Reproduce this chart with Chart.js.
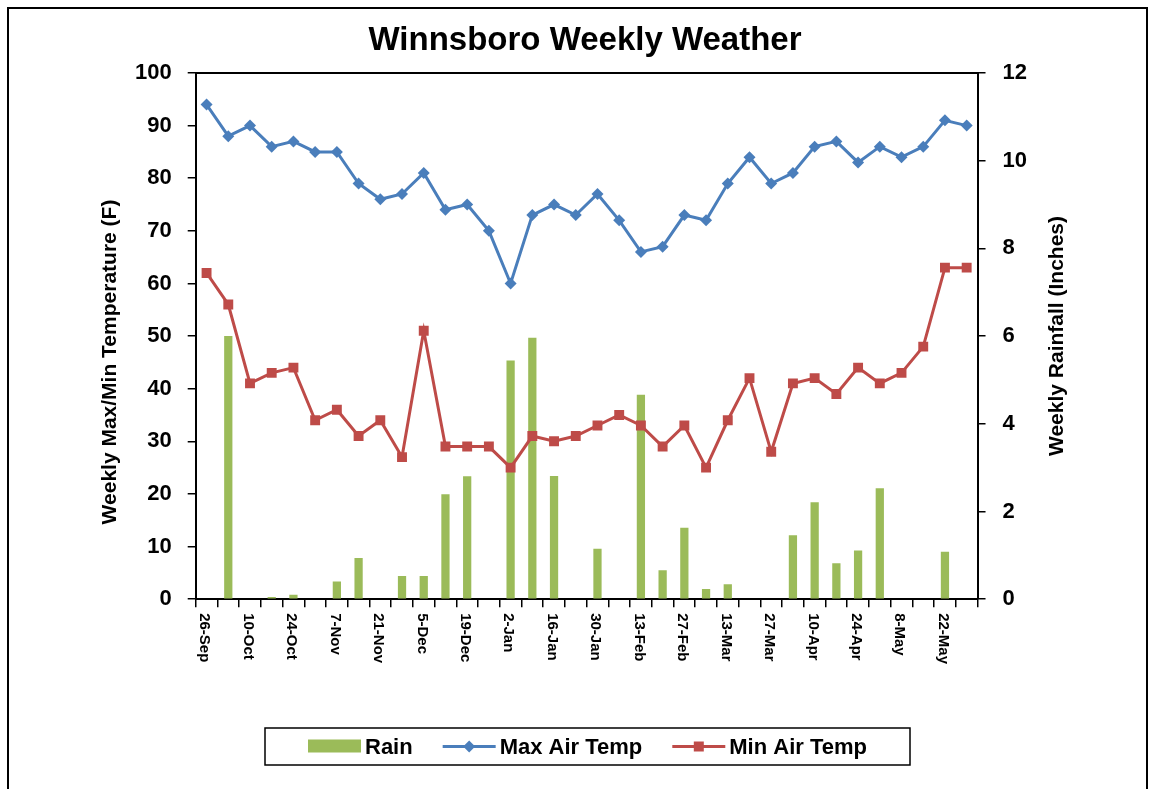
<!DOCTYPE html>
<html lang="en">
<head>
    <meta charset="UTF-8">
    <title>Winnsboro Weekly Weather</title>
    <script src="https://cdn.jsdelivr.net/npm/chart.js"></script>
    <style>
        html, body { margin: 0; padding: 0; background: #FFFFFF; }
        #wrap { position: relative; width: 1153px; height: 789px; }
    </style>
</head>
<body>
<div id="wrap">
    <canvas id="weatherChart" width="1153" height="789"></canvas>
</div>
<script>
    // weekly data, 26-Sep through 29-May
    const weeks = ['26-Sep', '3-Oct', '10-Oct', '17-Oct', '24-Oct', '31-Oct', '7-Nov', '14-Nov', '21-Nov',
        '28-Nov', '5-Dec', '12-Dec', '19-Dec', '26-Dec', '2-Jan', '9-Jan', '16-Jan', '23-Jan', '30-Jan',
        '6-Feb', '13-Feb', '20-Feb', '27-Feb', '6-Mar', '13-Mar', '20-Mar', '27-Mar', '3-Apr', '10-Apr',
        '17-Apr', '24-Apr', '1-May', '8-May', '15-May', '22-May', '29-May'];
    const maxTemp = [94, 88, 90, 86, 87, 85, 85, 79, 76, 77, 81, 74, 75, 70, 60, 73, 75, 73, 77, 72,
        66, 67, 73, 72, 79, 84, 79, 81, 86, 87, 83, 86, 84, 86, 91, 90];
    const minTemp = [62, 56, 41, 43, 44, 34, 36, 31, 34, 27, 51, 29, 29, 29, 25, 31, 30, 31, 33, 35,
        33, 29, 33, 25, 34, 42, 28, 41, 42, 39, 44, 41, 43, 48, 63, 63];
    const rain = [0, 6.0, 0, 0.05, 0.1, 0, 0.4, 0.94, 0, 0.53, 0.53, 2.39, 2.8, 0, 5.44, 5.96, 2.81, 0,
        1.15, 0, 4.66, 0.66, 1.63, 0.23, 0.34, 0, 0, 1.46, 2.21, 0.82, 1.11, 2.53, 0, 0, 1.08, 0];

    const GREEN = '#9BBB59';
    const BLUE = '#4A7EBB';
    const RED = '#BE4B48';
    const FONT = "'Liberation Sans', Arial, sans-serif";

    Chart.defaults.font.family = FONT;
    Chart.defaults.color = '#000000';

    // title, axis titles, x labels (clockwise), plot frame, legend, outer border
    const decorations = {
        id: 'decorations',
        afterDraw(chart) {
            const ctx = chart.ctx;
            const area = chart.chartArea;
            const xs = chart.scales.x;
            ctx.save();

            // plot frame top line
            ctx.strokeStyle = '#000';
            ctx.lineWidth = 2;
            ctx.beginPath();
            ctx.moveTo(area.left, area.top);
            ctx.lineTo(area.right, area.top);
            ctx.stroke();

            // title
            ctx.fillStyle = '#000';
            ctx.font = 'bold 33px ' + FONT;
            ctx.textAlign = 'center';
            ctx.textBaseline = 'middle';
            ctx.fillText('Winnsboro Weekly Weather', 585, 41);

            // axis titles
            ctx.font = 'bold 21px ' + FONT;
            ctx.save();
            ctx.translate(110, 362);
            ctx.rotate(-Math.PI / 2);
            ctx.fillText('Weekly Max/Min Temperature (F)', 0, 0);
            ctx.restore();
            ctx.save();
            ctx.translate(1057, 336);
            ctx.rotate(-Math.PI / 2);
            ctx.fillText('Weekly Rainfall (Inches)', 0, 0);
            ctx.restore();

            // x labels, every second week, reading top to bottom
            ctx.font = 'bold 15px ' + FONT;
            ctx.textAlign = 'left';
            const y0 = area.bottom + 8 + 6;
            weeks.forEach((w, i) => {
                if (i % 2) return;
                ctx.save();
                ctx.translate(xs.getPixelForValue(i) - 2, y0);
                ctx.rotate(Math.PI / 2);
                ctx.fillText(w, 0, 0);
                ctx.restore();
            });

            // legend
            const box = { x: 265, y: 728, w: 645, h: 37 };
            ctx.lineWidth = 1.5;
            ctx.strokeRect(box.x, box.y, box.w, box.h);
            ctx.font = 'bold 22px ' + FONT;
            ctx.textBaseline = 'middle';
            const cy = box.y + box.h / 2;
            const items = [
                { text: 'Rain', kind: 'bar', color: GREEN },
                { text: 'Max Air Temp', kind: 'diamond', color: BLUE },
                { text: 'Min Air Temp', kind: 'square', color: RED }
            ];
            const sym = 53, gap = 4, spacing = 30;
            let total = 0;
            items.forEach((it, k) => {
                it.tw = ctx.measureText(it.text).width;
                total += sym + gap + it.tw + (k ? spacing : 0);
            });
            let x = box.x + (box.w - total) / 2;
            items.forEach((it, k) => {
                if (k) x += spacing;
                ctx.fillStyle = it.color;
                ctx.strokeStyle = it.color;
                if (it.kind === 'bar') {
                    ctx.fillRect(x, cy - 7, sym, 13);
                } else {
                    ctx.lineWidth = 3;
                    ctx.beginPath();
                    ctx.moveTo(x, cy);
                    ctx.lineTo(x + sym, cy);
                    ctx.stroke();
                    const mx = x + sym / 2;
                    ctx.beginPath();
                    if (it.kind === 'diamond') {
                        ctx.moveTo(mx - 6, cy);
                        ctx.lineTo(mx, cy - 6);
                        ctx.lineTo(mx + 6, cy);
                        ctx.lineTo(mx, cy + 6);
                        ctx.closePath();
                    } else {
                        ctx.rect(mx - 5, cy - 5, 10, 10);
                    }
                    ctx.fill();
                }
                x += sym + gap;
                ctx.fillStyle = '#000';
                ctx.textAlign = 'left';
                ctx.fillText(it.text, x, cy + 1);
                x += it.tw;
            });

            // outer frame
            ctx.strokeStyle = '#000';
            ctx.lineWidth = 2;
            ctx.strokeRect(8, 8, 1139, 820);
            ctx.restore();
        }
    };

    const ctx = document.getElementById('weatherChart').getContext('2d');
    const weatherChart = new Chart(ctx, {
        type: 'bar',
        data: {
            labels: weeks,
            datasets: [{
                type: 'line',
                label: 'Max Air Temp',
                data: maxTemp,
                yAxisID: 'y',
                borderColor: BLUE,
                backgroundColor: BLUE,
                borderWidth: 3,
                pointStyle: 'rectRot',
                pointRadius: 6,
                pointBorderWidth: 0,
                tension: 0,
                order: 1
            }, {
                type: 'line',
                label: 'Min Air Temp',
                data: minTemp,
                yAxisID: 'y',
                borderColor: RED,
                backgroundColor: RED,
                borderWidth: 3,
                pointStyle: 'rect',
                pointRadius: 7,
                pointBorderWidth: 0,
                tension: 0,
                order: 1
            }, {
                type: 'bar',
                label: 'Rain',
                data: rain,
                yAxisID: 'y1',
                backgroundColor: GREEN,
                categoryPercentage: 1,
                barPercentage: 0.38,
                order: 2
            }]
        },
        options: {
            responsive: false,
            animation: false,
            layout: {
                padding: { left: 119, right: 109, top: 73, bottom: 119 }
            },
            plugins: {
                legend: { display: false },
                title: { display: false },
                tooltip: { enabled: false }
            },
            scales: {
                x: {
                    offset: true,
                    grid: {
                        offset: true,
                        drawOnChartArea: false,
                        drawTicks: true,
                        tickLength: 8,
                        color: '#000',
                        lineWidth: 1.5
                    },
                    border: { color: '#000', width: 2 },
                    ticks: {
                        autoSkip: false,
                        minRotation: 90,
                        maxRotation: 90,
                        padding: 6,
                        color: 'rgba(0,0,0,0)',
                        font: { size: 15, weight: 'bold' },
                        callback: function (value, index) {
                            return index % 2 ? '' : weeks[index];
                        }
                    }
                },
                y: {
                    position: 'left',
                    min: 0,
                    max: 100,
                    grid: {
                        drawOnChartArea: false,
                        tickLength: 8,
                        color: '#000',
                        lineWidth: 1.5
                    },
                    border: { color: '#000', width: 2 },
                    ticks: {
                        stepSize: 10,
                        padding: 16,
                        color: '#000',
                        font: { size: 22, weight: 'bold' }
                    }
                },
                y1: {
                    position: 'right',
                    min: 0,
                    max: 12,
                    grid: {
                        drawOnChartArea: false,
                        tickLength: 8,
                        color: '#000',
                        lineWidth: 1.5
                    },
                    border: { color: '#000', width: 2 },
                    ticks: {
                        stepSize: 2,
                        padding: 17,
                        color: '#000',
                        font: { size: 22, weight: 'bold' }
                    }
                }
            }
        },
        plugins: [decorations]
    });
</script>
</body>
</html>
